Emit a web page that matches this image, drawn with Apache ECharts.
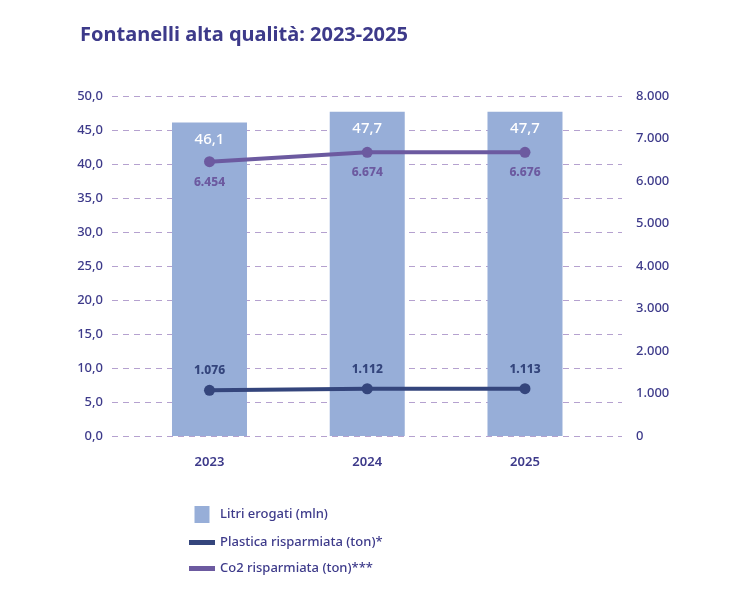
<!DOCTYPE html>
<html>
<head>
<meta charset="utf-8">
<script src="https://cdn.jsdelivr.net/npm/echarts@6/dist/echarts.min.js"></script>
<style>
  html, body { margin: 0; padding: 0; background: #fff; }
  #chart { width: 756px; height: 610px; }
</style>
</head>
<body>
<div id="chart"></div>
<script>
// dati
var anni = ['2023', '2024', '2025'];
var litri = [46.1, 47.7, 47.7];
var plastica = [1076, 1112, 1113];
var co2 = [6454, 6674, 6676];

var INDIGO = '#3d3a8a';
var FONT = '"Noto Sans", sans-serif';

function pts(arr) {
  return arr.map(function (v, i) { return [i, v]; });
}
function fmtDec(v) {
  return v.toFixed(1).replace('.', ',');
}
function fmtMig(v) {
  return String(Math.round(v)).replace(/\B(?=(\d{3})+(?!\d))/g, '.');
}

var chart = echarts.init(document.getElementById('chart'));
var option = {
  animation: false,
  textStyle: { fontFamily: FONT },
  title: {
    text: 'Fontanelli alta qualità: 2023-2025',
    left: 75,
    top: 20,
    textStyle: { color: INDIGO, fontSize: 20, fontWeight: 700, fontFamily: FONT }
  },
  grid: { left: 112, right: 134, top: 96, bottom: 174 },
  legend: {
    orient: 'vertical',
    left: 184,
    top: 501,
    itemGap: 13,
    itemWidth: 26,
    itemHeight: 17,
    textStyle: { color: INDIGO, fontSize: 13, fontWeight: 500 },
    data: [
      { name: 'Litri erogati (mln)', icon: 'path://M0,0h15v17h-15z' },
      { name: 'Plastica risparmiata (ton)*', icon: 'path://M0,0h26v5h-26z' },
      { name: 'Co2 risparmiata (ton)***', icon: 'path://M0,0h26v5h-26z' }
    ]
  },
  xAxis: {
    type: 'value',
    min: -0.618,
    max: 2.615,
    axisLine: { show: false },
    axisTick: { show: false },
    splitLine: { show: false },
    axisLabel: {
      customValues: [0, 1, 2],
      formatter: function (v) { return anni[Math.round(v)]; },
      color: INDIGO,
      fontSize: 13,
      fontWeight: 600,
      margin: 20
    }
  },
  yAxis: [
    {
      type: 'value',
      min: 0,
      max: 50,
      interval: 5,
      axisLine: { show: false },
      axisTick: { show: false },
      axisLabel: { formatter: fmtDec, color: INDIGO, fontSize: 13, fontWeight: 500, margin: 9 },
      splitLine: { lineStyle: { color: '#b5a1cf', type: [6, 5], width: 1 } }
    },
    {
      type: 'value',
      min: 0,
      max: 8000,
      interval: 1000,
      axisLine: { show: false },
      axisTick: { show: false },
      axisLabel: { formatter: fmtMig, color: INDIGO, fontSize: 13, fontWeight: 500, margin: 14 },
      splitLine: { show: false }
    }
  ],
  series: [
    {
      name: 'Litri erogati (mln)',
      type: 'bar',
      barWidth: 75,
      data: pts(litri),
      itemStyle: { color: '#97aed8' },
      label: {
        show: true,
        position: 'insideTop',
        distance: 10,
        color: '#fff',
        fontSize: 15,
        fontWeight: 500,
        formatter: function (p) { return fmtDec(p.value[1]); }
      },
      z: 1
    },
    {
      name: 'Plastica risparmiata (ton)*',
      type: 'line',
      yAxisIndex: 1,
      data: pts(plastica),
      symbol: 'circle',
      symbolSize: 11,
      lineStyle: { color: '#34457c', width: 4 },
      itemStyle: { color: '#34457c' },
      label: {
        show: true,
        position: 'top',
        distance: 8,
        color: '#34457c',
        fontSize: 12,
        fontWeight: 800,
        formatter: function (p) { return fmtMig(p.value[1]); }
      },
      z: 3
    },
    {
      name: 'Co2 risparmiata (ton)***',
      type: 'line',
      yAxisIndex: 1,
      data: pts(co2),
      symbol: 'circle',
      symbolSize: 11,
      lineStyle: { color: '#6c5aa0', width: 4 },
      itemStyle: { color: '#6c5aa0' },
      label: {
        show: true,
        position: 'bottom',
        distance: 9,
        color: '#6c5aa0',
        fontSize: 12,
        fontWeight: 800,
        formatter: function (p) { return fmtMig(p.value[1]); }
      },
      z: 3
    }
  ]
};
chart.setOption(option);
</script>
</body>
</html>
